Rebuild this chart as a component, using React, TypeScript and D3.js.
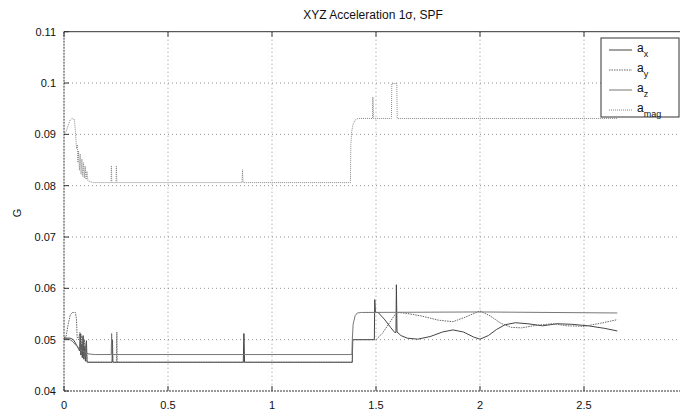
import React from "react";
import * as d3 from "d3";

const W = 680;
const H = 412;

const titleText = "XYZ Acceleration 1σ, SPF";
const yLabelText = "G";

const xTicks = [0, 0.5, 1, 1.5, 2, 2.5, 3];
const xTickLabels = ["0", "0.5", "1", "1.5", "2", "2.5", "3"];
const yTicks = [0.04, 0.05, 0.06, 0.07, 0.08, 0.09, 0.1, 0.11];
const yTickLabels = ["0.04", "0.05", "0.06", "0.07", "0.08", "0.09", "0.1", "0.11"];

const seriesNames = ["x", "y", "z", "mag"];

const aX: [number, number][] = [
  [0, 0.0503], [0.03, 0.0503], [0.045, 0.05], [0.06, 0.049], [0.07, 0.0482], [0.075, 0.0478],
  [0.078, 0.0512], [0.081, 0.047], [0.085, 0.0492], [0.088, 0.0465], [0.092, 0.0508], [0.095, 0.0462],
  [0.1, 0.0487], [0.103, 0.0458], [0.108, 0.0498], [0.111, 0.0456], [0.115, 0.0456],
  [0.231, 0.0456], [0.233, 0.0499], [0.235, 0.0456],
  [0.862, 0.0456], [0.865, 0.0512], [0.868, 0.0456],
  [1.386, 0.0456], [1.388, 0.05], [1.492, 0.05], [1.494, 0.0578], [1.497, 0.0553], [1.51, 0.0553],
  [1.54, 0.054], [1.57, 0.0524], [1.59, 0.0514], [1.596, 0.0514], [1.598, 0.0607], [1.601, 0.0515],
  [1.62, 0.0508], [1.65, 0.0503], [1.7, 0.0501], [1.76, 0.0506], [1.82, 0.0515], [1.87, 0.0519],
  [1.92, 0.0515], [1.97, 0.0505], [2.0, 0.0501], [2.04, 0.0508], [2.08, 0.052], [2.12, 0.0529],
  [2.17, 0.0533], [2.23, 0.0531], [2.3, 0.0527], [2.37, 0.0531], [2.44, 0.053], [2.52, 0.0527],
  [2.6, 0.0522], [2.66, 0.0517],
];

const aY: [number, number][] = [
  [0, 0.0504], [0.01, 0.0506], [0.02, 0.053], [0.03, 0.0548], [0.04, 0.0553], [0.055, 0.0553],
  [0.06, 0.054], [0.063, 0.0505], [0.07, 0.05], [0.076, 0.0514], [0.079, 0.0478], [0.083, 0.051],
  [0.086, 0.047], [0.09, 0.0505], [0.094, 0.0466], [0.098, 0.05], [0.101, 0.0462], [0.106, 0.0494],
  [0.11, 0.0458], [0.118, 0.0456], [0.252, 0.0456], [0.254, 0.0515], [0.256, 0.0456],
  [1.386, 0.0456], [1.388, 0.05], [1.5, 0.05], [1.53, 0.0512], [1.56, 0.053], [1.59, 0.0548],
  [1.61, 0.0553], [1.65, 0.0551], [1.72, 0.0546], [1.8, 0.0538], [1.87, 0.0535], [1.93, 0.0544],
  [2.0, 0.0556], [2.05, 0.0546], [2.1, 0.0532], [2.15, 0.0524], [2.2, 0.0523], [2.27, 0.0528],
  [2.35, 0.0531], [2.42, 0.0527], [2.5, 0.0526], [2.58, 0.0532], [2.66, 0.0539],
];

const aZ: [number, number][] = [
  [0, 0.0504], [0.02, 0.0502], [0.04, 0.0497], [0.06, 0.0488], [0.08, 0.048], [0.1, 0.0476],
  [0.12, 0.0472], [0.15, 0.0471], [0.227, 0.0471], [0.229, 0.0512], [0.231, 0.0471],
  [1.384, 0.0471], [1.386, 0.05], [1.39, 0.053], [1.4, 0.0547], [1.41, 0.0552], [1.43, 0.0553],
  [2.0, 0.0554], [2.66, 0.0552],
];

const aMag: [number, number][] = [
  [0, 0.0902], [0.01, 0.0905], [0.02, 0.0918], [0.03, 0.0928], [0.037, 0.0931], [0.05, 0.0929],
  [0.055, 0.0905], [0.06, 0.0872], [0.064, 0.088], [0.067, 0.0845], [0.07, 0.0868], [0.074, 0.083],
  [0.078, 0.0862], [0.082, 0.0822], [0.086, 0.0852], [0.09, 0.0818], [0.094, 0.0845], [0.098, 0.0815],
  [0.102, 0.0838], [0.106, 0.0812], [0.11, 0.0828], [0.115, 0.081], [0.125, 0.0808], [0.14, 0.0806],
  [0.226, 0.0806], [0.228, 0.0839], [0.23, 0.0806], [0.25, 0.0806], [0.252, 0.0839], [0.254, 0.0806],
  [0.856, 0.0806], [0.858, 0.0831], [0.861, 0.0806], [1.377, 0.0806], [1.379, 0.088], [1.383, 0.0905],
  [1.39, 0.092], [1.4, 0.0928], [1.414, 0.0931], [1.483, 0.0931], [1.485, 0.0973], [1.488, 0.0931],
  [1.574, 0.0931], [1.576, 0.0999], [1.6, 0.0999], [1.602, 0.0931], [2.66, 0.0931],
];

const seriesData = [aX, aY, aZ, aMag];
const seriesStroke = ["#444", "#666", "#777", "#888"];
const seriesDash = ["none", "1.5,1", "none", "1,1"];

export default function App() {
  const x = d3.scaleLinear().domain([0, 3]).range([64, 688]);
  const y = d3.scaleLinear().domain([0.04, 0.11]).range([391, 31.7]);
  const line = d3
    .line<[number, number]>()
    .x((d) => x(d[0]))
    .y((d) => y(d[1]));

  const font = "'Liberation Sans', Arial, Helvetica, sans-serif";
  const left = x(0);
  const right = x(3);
  const top = y(0.11);
  const bottom = y(0.04);

  const lgX0 = 601;
  const lgY0 = 38;
  const lgW = 78;
  const lgH = 79;
  const rowY = [50, 70, 90, 110];

  return (
    <svg
      width={W}
      height={H}
      style={{ position: "absolute", left: 0, top: 0, background: "#fff" }}
      fontFamily={font}
    >
      <rect x={0} y={0} width={W} height={H} fill="#fff" />
      <defs>
        <clipPath id="plotClip">
          <rect x={left} y={top} width={right - left} height={bottom - top} />
        </clipPath>
      </defs>
      {xTicks.slice(1).map((t) => (
        <line key={"gx" + t} x1={x(t)} x2={x(t)} y1={top} y2={bottom} stroke="#777" strokeWidth={0.8} strokeDasharray="1,3" />
      ))}
      {yTicks.slice(1, -1).map((t) => (
        <line key={"gy" + t} x1={left} x2={right} y1={y(t)} y2={y(t)} stroke="#777" strokeWidth={0.8} strokeDasharray="1,3" />
      ))}
      <g clipPath="url(#plotClip)">
        {seriesData.map((d, i) => (
          <path
            key={"s" + i}
            d={line(d) || ""}
            fill="none"
            stroke={seriesStroke[i]}
            strokeWidth={1}
            strokeDasharray={seriesDash[i]}
          />
        ))}
      </g>
      <line x1={left} x2={right} y1={top} y2={top} stroke="#333" strokeWidth={1} />
      <line x1={left} x2={right} y1={bottom} y2={bottom} stroke="#333" strokeWidth={1} strokeDasharray="2,1" />
      <line x1={left} x2={left} y1={top} y2={bottom} stroke="#333" strokeWidth={1} strokeDasharray="2,1" />
      {xTicks.map((t) => (
        <g key={"tx" + t}>
          <line x1={x(t)} x2={x(t)} y1={bottom} y2={bottom - 5} stroke="#333" />
          <line x1={x(t)} x2={x(t)} y1={top} y2={top + 5} stroke="#333" />
        </g>
      ))}
      {yTicks.map((t) => (
        <line key={"ty" + t} x1={left} x2={left + 5} y1={y(t)} y2={y(t)} stroke="#333" />
      ))}
      {xTicks.map((t, i) =>
        x(t) + 6 < W ? (
          <text key={"lx" + t} x={x(t)} y={409} fontSize={11} textAnchor="middle" fill="#111">
            {xTickLabels[i]}
          </text>
        ) : null
      )}
      {yTicks.map((t, i) => (
        <text key={"ly" + t} x={56} y={y(t) + 4} fontSize={11} textAnchor="end" fill="#111">
          {yTickLabels[i]}
        </text>
      ))}
      <text x={373} y={18.5} fontSize={12} textAnchor="middle" fill="#111">
        {titleText}
      </text>
      <text x={0} y={0} fontSize={11} textAnchor="middle" fill="#111" transform="translate(21,213) rotate(-90)">
        {yLabelText}
      </text>
      <rect x={lgX0} y={lgY0} width={lgW} height={lgH} fill="#fff" stroke="#333" strokeWidth={1} />
      {seriesNames.map((n, i) => (
        <g key={"lg" + n}>
          <line
            x1={609}
            x2={632}
            y1={rowY[i]}
            y2={rowY[i]}
            stroke={seriesStroke[i]}
            strokeWidth={1}
            strokeDasharray={seriesDash[i]}
          />
          <text x={637} y={rowY[i] + 2} fontSize={12} fill="#111">
            a
            <tspan fontSize={9} dy={5}>
              {n}
            </tspan>
          </text>
        </g>
      ))}
    </svg>
  );
}
